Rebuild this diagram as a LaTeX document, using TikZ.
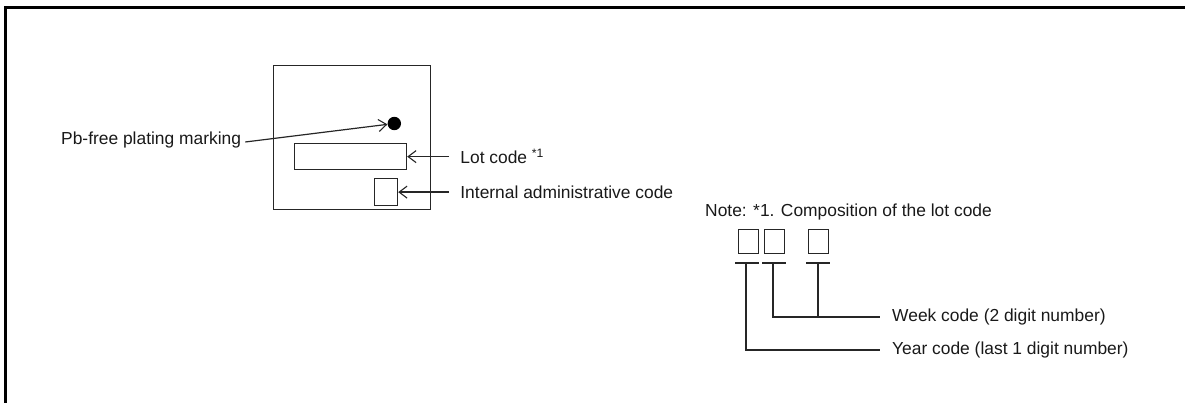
\documentclass[tikz,border=0pt]{standalone}
\usepackage{fontspec}
\setmainfont{Liberation Sans}
\usetikzlibrary{arrows.meta,calc}
\begin{document}
\begin{tikzpicture}[x=1pt,y=-1pt,
  ln/.style={draw=black!85,line width=1.2pt},
  arr/.style={ln,-{Straight Barb[length=8pt,width=12pt,line width=1.1pt]}},
  boxn/.style={ln,rectangle,inner sep=0pt,anchor=north west},
  lbl/.style={inner sep=0pt,text=black!90,font=\fontsize{17.4}{20}\selectfont}]
\useasboundingbox (0,0) rectangle (1185,403);
\clip (0,0) rectangle (1185,403);
% outer frame (right and bottom cut off)
\draw[line width=2.6pt] (5.5,7.5) rectangle (1192,403.8);
% chip outline
\node[boxn,minimum width=157pt,minimum height=144pt] (chip) at (273,65) {};
\node[circle,fill=black,inner sep=0pt,minimum size=13.4pt] (dot) at (394.3,123.5) {};
\node[boxn,minimum width=112pt,minimum height=26pt] (lotrect) at (294,143) {};
\node[boxn,minimum width=23pt,minimum height=27pt] (intrect) at (374,178) {};
% labels
\node[lbl,anchor=west] (pb) at (61,140) {Pb-free plating marking};
\node[lbl,anchor=west] (lot) at ([xshift=53pt]lotrect.east) {Lot code \textsuperscript{*1}};
\node[lbl,anchor=west] (int) at ([xshift=62pt]intrect.east) {Internal administrative code};
\draw[arr] (pb.east) ++(4pt,-2pt) -- (dot);
\draw[arr] (lot.west) ++(-11pt,0) -- (lotrect.east);
\draw[arr] (int.west) ++(-11pt,0) -- (intrect.east);
% composition of the lot code
\node[lbl,anchor=west] (note) at (705,212) {Note: *1. Composition of the lot code};
\node[boxn,minimum width=20pt,minimum height=24pt] (b1) at (737.5,229) {};
\node[boxn,minimum width=20pt,minimum height=24pt] (b2) at (763.5,229) {};
\node[boxn,minimum width=20pt,minimum height=24pt] (b3) at (807.5,229) {};
\coordinate (tk1) at (747,263);
\coordinate (tk2) at (774,263);
\coordinate (tk3) at (818,263);
\foreach \t in {tk1,tk2,tk3}{\draw[ln] ([xshift=-12pt]\t) -- ([xshift=12pt]\t);}
\node[lbl,anchor=west] (week) at (892,317) {Week code (2 digit number)};
\node[lbl,anchor=west] (year) at (892,350) {Year code (last 1 digit number)};
\draw[ln] ([xshift=-1pt]tk2) |- ([xshift=-12pt]week.west);
\draw[ln] (tk3) -- (tk3 |- week.west);
\draw[ln] ([xshift=-1pt]tk1) |- ([xshift=-12pt]year.west);
\end{tikzpicture}
\end{document}
